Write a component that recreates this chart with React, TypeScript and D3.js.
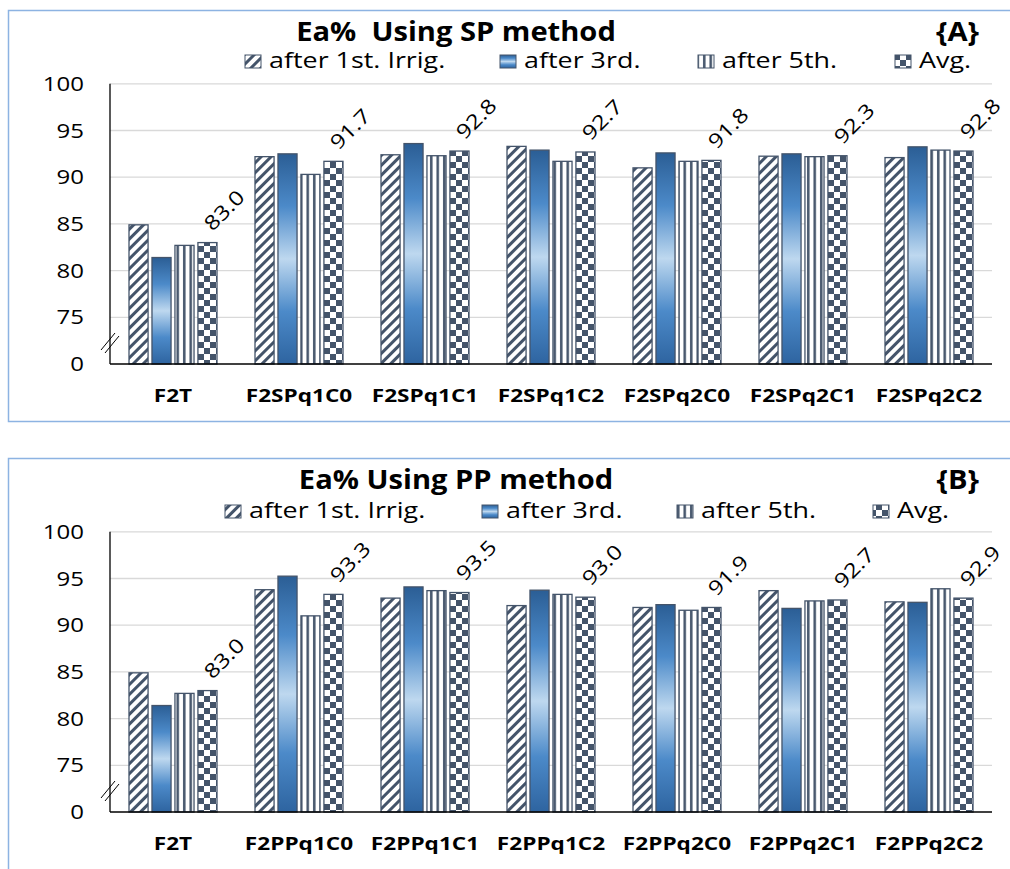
import React from "react";
import * as d3 from "d3";

const categoriesA = ["F2T", "F2SPq1C0", "F2SPq1C1", "F2SPq1C2", "F2SPq2C0", "F2SPq2C1", "F2SPq2C2"];
const categoriesB = ["F2T", "F2PPq1C0", "F2PPq1C1", "F2PPq1C2", "F2PPq2C0", "F2PPq2C1", "F2PPq2C2"];
const seriesNames = ["after 1st. Irrig.", "after 3rd.", "after 5th.", "Avg."];

const spFirst = [84.9, 92.2, 92.4, 93.3, 91.0, 92.25, 92.1];
const spThird = [81.4, 92.5, 93.6, 92.9, 92.6, 92.5, 93.25];
const spFifth = [82.7, 90.3, 92.3, 91.7, 91.7, 92.2, 92.9];
const spAvg = [83.0, 91.7, 92.8, 92.7, 91.8, 92.3, 92.8];

const ppFirst = [84.9, 93.8, 92.9, 92.1, 91.9, 93.7, 92.5];
const ppThird = [81.4, 95.25, 94.1, 93.75, 92.2, 91.8, 92.45];
const ppFifth = [82.7, 91.0, 93.7, 93.3, 91.6, 92.6, 93.9];
const ppAvg = [83.0, 93.3, 93.5, 93.0, 91.9, 92.7, 92.9];

const yTicks = [0, 75, 80, 85, 90, 95, 100];

const DARK = "#44546A";
const FONT = "'Open Sans', sans-serif";
const fills = ["url(#pHatch)", "url(#gBlue)", "url(#pVert)", "url(#pCheck)"];

type PanelProps = {
  oy: number;
  title: string;
  tag: string;
  cats: string[];
  data: number[][];
  legendX: number[];
  frameH: number;
  legendDy: number;
};

function T(props: any) {
  const { x, y, sx = 1, children, ...rest } = props;
  return (
    <text transform={`translate(${x},${y}) scale(${sx},1)`} fontFamily={FONT} {...rest}>
      {children}
    </text>
  );
}

function Panel({ oy, title, tag, cats, data, legendX, frameH, legendDy }: PanelProps) {
  const left = 110;
  const right = 992;
  const base = oy + 364;
  const step = 46.7;
  const y = d3.scaleLinear().domain([0, 75, 100]).range([base, base - step, base - 6 * step]);
  const x0 = d3.scaleBand<string>().domain(cats).range([left, right]).paddingInner(0).paddingOuter(0);
  const x1 = d3.scaleBand<string>().domain(seriesNames).range([19, 107]).paddingInner(0.17).paddingOuter(0);
  const bw = x1.bandwidth();
  const avg = data[3];

  return (
    <g>
      <rect x={8.5} y={oy + 10.5} width={1010} height={frameH} fill="white" stroke="#8DB3E2" strokeWidth={1.5} />
      <T x={456} y={oy + 41} sx={1.12} textAnchor="middle" fontWeight="bold" fontSize={26} style={{ whiteSpace: "pre" }}>
        {title}
      </T>
      <T x={979} y={oy + 41} sx={1.12} textAnchor="end" fontWeight="bold" fontSize={26}>
        {tag}
      </T>
      {seriesNames.map((s, i) => (
        <g key={s}>
          <rect x={legendX[i]} y={oy + legendDy - 13} width={16} height={13} fill={fills[i]} stroke={DARK} strokeWidth={1} />
          <T x={legendX[i] + 24} y={oy + legendDy} sx={1.28} fontSize={21}>
            {s}
          </T>
        </g>
      ))}
      {yTicks.map((t) => (
        <g key={t}>
          {t > 0 && <line x1={left} x2={right} y1={y(t)} y2={y(t)} stroke="#D9D9D9" strokeWidth={1.3} />}
          <T x={84} y={y(t) + 7} sx={1.2} textAnchor="end" fontSize={20}>
            {String(t)}
          </T>
        </g>
      ))}
      {cats.map((c, ci) => (
        <g key={c}>
          {data.map((vals, si) => {
            const bx = (x0(c) as number) + (x1(seriesNames[si]) as number);
            return (
              <rect
                key={si}
                x={bx}
                y={y(vals[ci])}
                width={bw}
                height={base - y(vals[ci])}
                fill={fills[si]}
                stroke={DARK}
                strokeWidth={1.3}
              />
            );
          })}
          <T x={(x0(c) as number) + 63} y={base + 38} sx={1.33} textAnchor="middle" fontWeight="bold" fontSize={17}>
            {c}
          </T>
          {(() => {
            const cx = (x0(c) as number) + (x1(seriesNames[3]) as number) + bw / 2 + 16;
            const cy = y(avg[ci]) - 33;
            return (
              <text
                transform={`translate(${cx},${cy}) rotate(-45) scale(1.2,1)`}
                textAnchor="middle"
                dominantBaseline="central"
                fontFamily={FONT}
                fontSize={20}
              >
                {avg[ci].toFixed(1)}
              </text>
            );
          })()}
        </g>
      ))}
      <line x1={left} x2={left} y1={y(100)} y2={base} stroke="black" strokeWidth={1.3} />
      <line x1={left} x2={right} y1={base} y2={base} stroke="black" strokeWidth={1.5} />
      <line x1={101} y1={base - 14} x2={115} y2={base - 31} stroke="black" strokeWidth={1} />
      <line x1={105} y1={base - 11} x2={119} y2={base - 28} stroke="black" strokeWidth={1} />
    </g>
  );
}

export default function App() {
  return (
    <svg width={1010} height={869} style={{ display: "block", position: "absolute", left: 0, top: 0 }}>
      <defs>
        <pattern id="pHatch" patternUnits="userSpaceOnUse" width={7} height={7} patternTransform="rotate(45)">
          <rect width={7} height={7} fill="white" />
          <rect width={3} height={7} fill={DARK} />
        </pattern>
        <pattern id="pVert" patternUnits="userSpaceOnUse" width={6.5} height={6}>
          <rect width={6.5} height={6} fill="white" />
          <rect x={1} width={2.5} height={6} fill={DARK} />
        </pattern>
        <pattern id="pCheck" patternUnits="userSpaceOnUse" width={12} height={12}>
          <rect width={12} height={12} fill="white" />
          <rect width={6} height={6} fill={DARK} />
          <rect x={6} y={6} width={6} height={6} fill={DARK} />
        </pattern>
        <linearGradient id="gBlue" x1="0" y1="0" x2="0" y2="1">
          <stop offset="0" stopColor="#2B5E95" />
          <stop offset="0.25" stopColor="#4C8AC9" />
          <stop offset="0.5" stopColor="#BED8EF" />
          <stop offset="0.75" stopColor="#4C8AC9" />
          <stop offset="1" stopColor="#2E64A0" />
        </linearGradient>
      </defs>
      <rect width={1010} height={869} fill="white" />
      <Panel
        oy={0}
        title="Ea%  Using SP method"
        tag="{A}"
        cats={categoriesA}
        data={[spFirst, spThird, spFifth, spAvg]}
        legendX={[245, 500, 698, 895]}
        frameH={411}
        legendDy={68}
      />
      <Panel
        oy={448}
        title="Ea% Using PP method"
        tag="{B}"
        cats={categoriesB}
        data={[ppFirst, ppThird, ppFifth, ppAvg]}
        legendX={[225, 482, 677, 873]}
        frameH={440}
        legendDy={70}
      />
    </svg>
  );
}
